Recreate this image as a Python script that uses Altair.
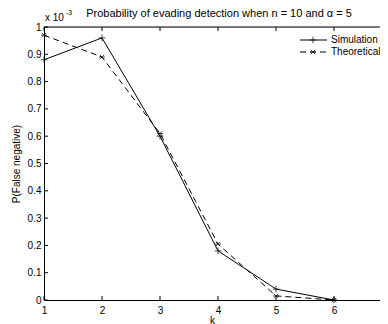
import altair as alt
import pandas as pd

# values in units of 1e-3
k = [1, 2, 3, 4, 5, 6]
simulation = [0.88, 0.96, 0.60, 0.18, 0.04, 0.0]
theoretical = [0.97, 0.89, 0.61, 0.205, 0.015, 0.0]
x_ticks = [1, 2, 3, 4, 5, 6]
y_ticks = [0.0, 0.1, 0.2, 0.3, 0.4, 0.5, 0.6, 0.7, 0.8, 0.9, 1.0]

W, H = 336, 273
X_MAX = 1 + W / 58.0
FONT = "Liberation Sans"
PLUS = "M-1,0L1,0M0,-1L0,1"
STAR = "M-1,0L1,0M-0.75,-0.75L0.75,0.75M-0.75,0.75L0.75,-0.75"

sim_df = pd.DataFrame({"k": k, "p": simulation})
theo_df = pd.DataFrame({"k": k, "p": theoretical})
xt_df = pd.DataFrame({"t": x_ticks})
yt_df = pd.DataFrame({"t": y_ticks})

xs = alt.Scale(domain=[1, X_MAX], nice=False, zero=False)
ys = alt.Scale(domain=[0, 1], nice=False)

x_axis = alt.Axis(values=x_ticks, tickSize=0, labelPadding=5, title="k",
                  titlePadding=0, domainColor="black", labelColor="black",
                  format="d", labelOverlap=False,
                  labelFont=FONT, labelFontSize=10, titleFont=FONT,
                  titleFontSize=10, titleFontWeight="normal", grid=False,
                  labelFlush=False)
y_axis = alt.Axis(values=y_ticks, tickSize=0, labelPadding=3, format=".1~f",
                  labelOverlap=False,
                  title="P(False negative)", titlePadding=6,
                  domainColor="black", labelColor="black", labelFont=FONT,
                  labelFontSize=10, titleFont=FONT, titleFontSize=10,
                  titleFontWeight="normal", grid=False, labelFlush=False)

X = alt.X("k:Q", scale=xs, axis=x_axis)
Y = alt.Y("p:Q", scale=ys, axis=y_axis)
XT = alt.X("t:Q", scale=xs, axis=x_axis)
YT = alt.Y("t:Q", scale=ys, axis=y_axis)

sim_line = alt.Chart(sim_df).mark_line(color="black", strokeWidth=1).encode(x=X, y=Y)
sim_pts = alt.Chart(sim_df).mark_point(shape=PLUS, size=45, color="black",
                                       strokeWidth=1, filled=False).encode(x=X, y=Y)
theo_line = alt.Chart(theo_df).mark_line(color="black", strokeWidth=1,
                                         strokeDash=[6, 4]).encode(x=X, y=Y)
theo_pts = alt.Chart(theo_df).mark_point(shape=STAR, size=36, color="black",
                                         strokeWidth=1, filled=False).encode(x=X, y=Y)

# top frame line and inward ticks
top_line = alt.Chart(pd.DataFrame({"a": [0]})).mark_rule(color="black", strokeWidth=1).encode(
    x=alt.value(0), x2=alt.value(W), y=alt.value(0))
bot_ticks = alt.Chart(xt_df).mark_rule(color="black", strokeWidth=1).encode(
    x=XT, y=alt.value(H), y2=alt.value(H - 4))
top_ticks = alt.Chart(xt_df).mark_rule(color="black", strokeWidth=1).encode(
    x=XT, y=alt.value(0), y2=alt.value(4))
left_ticks = alt.Chart(yt_df).mark_rule(color="black", strokeWidth=1).encode(
    y=YT, x=alt.value(0), x2=alt.value(4))

title = alt.Chart(pd.DataFrame({"s": ["Probability of evading detection when n = 10 and \u03b1 = 5"]})).mark_text(
    font=FONT, fontSize=11, color="black", align="center", baseline="middle").encode(
    text="s:N", x=alt.value(175), y=alt.value(-13))
exp_base = alt.Chart(pd.DataFrame({"s": ["x 10"]})).mark_text(
    font=FONT, fontSize=10, color="black", align="left", baseline="middle").encode(
    text="s:N", x=alt.value(1), y=alt.value(-9))
exp_sup = alt.Chart(pd.DataFrame({"s": ["-3"]})).mark_text(
    font=FONT, fontSize=7, color="black", align="left", baseline="middle").encode(
    text="s:N", x=alt.value(22), y=alt.value(-14))

# legend
leg_sim_line = alt.Chart(pd.DataFrame({"a": [0]})).mark_rule(color="black", strokeWidth=1).encode(
    x=alt.value(256), x2=alt.value(283), y=alt.value(13))
leg_sim_pt = alt.Chart(pd.DataFrame({"a": [0]})).mark_point(shape=PLUS, size=45, color="black", strokeWidth=1).encode(
    x=alt.value(269), y=alt.value(13))
leg_sim_txt = alt.Chart(pd.DataFrame({"s": ["Simulation"]})).mark_text(
    font=FONT, fontSize=10, color="black", align="left", baseline="middle").encode(
    text="s:N", x=alt.value(287), y=alt.value(13))
leg_theo_line = alt.Chart(pd.DataFrame({"a": [0]})).mark_rule(color="black", strokeWidth=1, strokeDash=[6, 4]).encode(
    x=alt.value(256), x2=alt.value(283), y=alt.value(25))
leg_theo_pt = alt.Chart(pd.DataFrame({"a": [0]})).mark_point(shape=STAR, size=36, color="black", strokeWidth=1).encode(
    x=alt.value(269), y=alt.value(25))
leg_theo_txt = alt.Chart(pd.DataFrame({"s": ["Theoretical"]})).mark_text(
    font=FONT, fontSize=10, color="black", align="left", baseline="middle").encode(
    text="s:N", x=alt.value(287), y=alt.value(25))

chart = alt.layer(
    sim_line, theo_line, sim_pts, theo_pts,
    top_line, bot_ticks, top_ticks, left_ticks,
    title, exp_base, exp_sup,
    leg_sim_line, leg_sim_pt, leg_sim_txt,
    leg_theo_line, leg_theo_pt, leg_theo_txt,
).properties(
    width=W, height=H,
    autosize=alt.AutoSizeParams(type="none"),
    padding={"left": 36, "top": 19, "right": 0, "bottom": 24},
).configure_view(stroke=None).configure(background="white")

chart.save("out.html", embed_options={"renderer": "svg", "actions": False})
